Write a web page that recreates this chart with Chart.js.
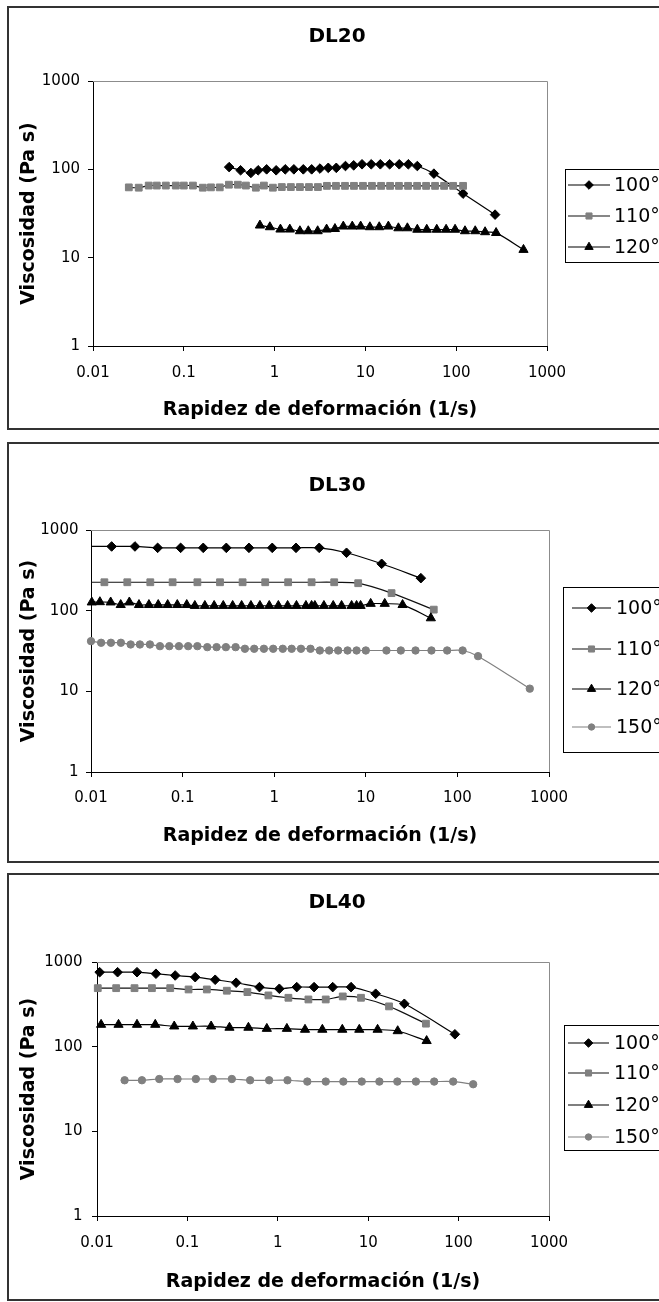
<!DOCTYPE html>
<html>
<head>
<meta charset="utf-8">
<title>Viscosidad DL20 / DL30 / DL40</title>
<script src="https://cdn.jsdelivr.net/npm/chart.js@4.4.1/dist/chart.umd.min.js"></script>
<style>
  html, body { margin: 0; padding: 0; overflow: hidden; background: #fff; width: 659px; height: 1302px; }
  .frame { position: absolute; left: 7px; width: 720px; border: 2px solid #333; box-sizing: border-box; }
  canvas { position: absolute; left: 0; }
</style>
</head>
<body>
<div class="frame" style="top:6px;height:424px"></div>
<div class="frame" style="top:442px;height:421px"></div>
<div class="frame" style="top:873px;height:428px"></div>
<canvas id="dl20" width="720" height="434" style="top:0px;width:720px;height:434px"></canvas>
<canvas id="dl30" width="720" height="434" style="top:434px;width:720px;height:434px"></canvas>
<canvas id="dl40" width="720" height="434" style="top:868px;width:720px;height:434px"></canvas>
<script>
// series labels and axis ticks
var tempLabels = ['100°C', '110°C', '120°C', '150°C'];
var xTicks = [0.01, 0.1, 1, 10, 100, 1000];
var yTicks = [1, 10, 100, 1000];

// DL20 — shear rate (1/s) and viscosity (Pa s)
var dl20_100_x = [0.316, 0.422, 0.548, 0.659, 0.817, 1.04, 1.31, 1.63, 2.07, 2.56, 3.16, 3.90, 4.78, 6.03, 7.43, 9.18, 11.6, 14.6, 18.5, 23.6, 29.7, 37.3, 56.8, 119, 268];
var dl20_100_y = [106, 97.5, 91, 97.5, 100, 97.5, 100, 100, 100, 100, 102, 104, 104, 109, 111, 114, 114, 114, 114, 114, 114, 109, 89.4, 53.1, 30.7];
var dl20_110_x = [0.0248, 0.0319, 0.0411, 0.0504, 0.0634, 0.0817, 0.100, 0.126, 0.162, 0.199, 0.249, 0.314, 0.394, 0.483, 0.622, 0.762, 0.957, 1.20, 1.51, 1.90, 2.39, 3.00, 3.77, 4.74, 5.96, 7.48, 9.40, 11.8, 14.9, 18.7, 23.4, 29.5, 37.1, 46.6, 58.5, 73.6, 92.5, 119];
var dl20_110_y = [62.5, 62, 65.5, 65.5, 65.5, 65.5, 65.5, 65.5, 62, 62.5, 62.5, 67, 67, 65.5, 62, 65.5, 62, 63, 63, 63, 63, 63, 65, 65, 65, 65, 65, 65, 65, 65, 65, 65, 65, 65, 65, 65, 65, 65];
var dl20_120_x = [0.689, 0.887, 1.16, 1.47, 1.90, 2.35, 2.98, 3.74, 4.62, 5.71, 7.17, 8.87, 11.2, 14.2, 17.9, 23.1, 29.0, 37.3, 47.4, 61.1, 77.4, 97.2, 125, 162, 208, 275, 551];
var dl20_120_y = [23.2, 22.2, 20.9, 20.9, 20.0, 20.0, 20.0, 20.9, 21.2, 22.6, 22.6, 22.6, 22.2, 22.2, 22.6, 21.6, 21.6, 20.8, 20.8, 20.8, 20.8, 20.8, 20.0, 20.0, 19.5, 19.1, 12.3];

// DL30
var dl30_100_x = [0.0085, 0.0168, 0.0302, 0.0534, 0.0952, 0.168, 0.300, 0.530, 0.952, 1.73, 3.10, 6.16, 14.9, 39.9];
var dl30_100_y = [625, 625, 625, 601, 601, 601, 601, 601, 601, 601, 601, 522, 381, 253];
var dl30_110_x = [0.0079, 0.0140, 0.0249, 0.0444, 0.0778, 0.145, 0.256, 0.452, 0.798, 1.42, 2.56, 4.52, 8.26, 19.1, 55.2];
var dl30_110_y = [225, 225, 225, 225, 225, 225, 225, 225, 225, 225, 225, 225, 219, 165, 103];
var dl30_120_x = [0.0102, 0.0125, 0.0164, 0.0211, 0.0262, 0.0334, 0.0429, 0.0542, 0.0687, 0.0875, 0.111, 0.136, 0.175, 0.221, 0.278, 0.352, 0.441, 0.557, 0.698, 0.883, 1.11, 1.40, 1.75, 2.22, 2.56, 2.78, 3.49, 4.41, 5.44, 7.00, 7.93, 8.77, 11.3, 16.1, 25.2, 51.3];
var dl30_120_y = [127, 128, 127, 118, 127, 118, 118, 118, 118, 118, 118, 115, 115, 115, 115, 115, 115, 115, 115, 115, 115, 115, 115, 115, 115, 115, 115, 115, 115, 115, 115, 115, 122, 122, 118, 80.8];
var dl30_150_x = [0.0100, 0.0129, 0.0165, 0.0212, 0.0271, 0.0342, 0.0440, 0.0566, 0.0716, 0.0912, 0.115, 0.145, 0.186, 0.235, 0.297, 0.379, 0.479, 0.605, 0.772, 0.975, 1.24, 1.55, 1.96, 2.49, 3.15, 3.98, 4.99, 6.32, 7.93, 10.0, 16.8, 24.1, 34.9, 52.1, 77.3, 114, 168, 617];
var dl30_150_y = [41.9, 40.0, 40.0, 40.0, 38.1, 38.1, 38.1, 36.3, 36.3, 36.3, 36.3, 36.3, 35.3, 35.3, 35.3, 35.3, 33.7, 33.7, 33.7, 33.7, 33.7, 33.7, 33.7, 33.7, 32.1, 32.1, 32.1, 32.1, 32.1, 32.1, 32.1, 32.1, 32.1, 32.1, 32.1, 32.1, 27.3, 10.8];

// DL40
var dl40_100_x = [0.0107, 0.0169, 0.0277, 0.0449, 0.0733, 0.122, 0.203, 0.346, 0.627, 1.04, 1.62, 2.52, 4.05, 6.46, 12.1, 25.1, 91.0];
var dl40_100_y = [758, 758, 758, 727, 693, 662, 617, 569, 505, 483, 505, 505, 505, 505, 422, 321, 140];
var dl40_110_x = [0.0102, 0.0163, 0.0260, 0.0405, 0.0646, 0.103, 0.164, 0.273, 0.461, 0.787, 1.31, 2.18, 3.39, 5.23, 8.32, 17.0, 43.5];
var dl40_110_y = [491, 491, 491, 491, 491, 474, 474, 458, 441, 403, 378, 361, 361, 392, 378, 299, 187];
var dl40_120_x = [0.0111, 0.0173, 0.0277, 0.0441, 0.0715, 0.115, 0.183, 0.292, 0.473, 0.756, 1.26, 2.00, 3.11, 5.17, 7.97, 12.7, 21.2, 44.3];
var dl40_120_y = [182, 182, 182, 182, 174, 174, 174, 168, 168, 163, 163, 159, 159, 159, 159, 159, 153, 117];
var dl40_150_x = [0.0202, 0.0314, 0.0488, 0.0778, 0.124, 0.191, 0.310, 0.494, 0.802, 1.28, 2.12, 3.39, 5.31, 8.48, 13.3, 21.0, 33.7, 53.7, 87.1, 145];
var dl40_150_y = [40.1, 40.1, 41.5, 41.5, 41.5, 41.5, 41.5, 40.1, 40.1, 40.1, 38.7, 38.7, 38.7, 38.7, 38.7, 38.7, 38.7, 38.7, 38.7, 36.0];

var W = 720, H = 434;
Chart.defaults.font.family = '"DejaVu Sans", sans-serif';
Chart.defaults.color = '#000';

// one look per temperature: line colour, marker fill, marker shape, size
var looks = [
  { line: '#000', fill: '#000', shape: 'rectRot', r: 4.8 },
  { line: '#111', fill: '#808080', shape: 'rect', r: 4.8 },
  { line: '#000', fill: '#000', shape: 'triangle', r: 5.3 },
  { line: '#808080', fill: '#808080', shape: 'circle', r: 3.7 }
];

function pts(xs, ys) {
  return xs.map(function (x, i) { return { x: x, y: ys[i] }; });
}

// grey frame on the plot area, the chart title and the boxed legend
var panelDecor = {
  id: 'panelDecor',
  beforeDatasetsDraw: function (chart) {
    var a = chart.chartArea, ctx = chart.ctx;
    ctx.save();
    ctx.strokeStyle = '#8c8c8c';
    ctx.lineWidth = 1;
    ctx.beginPath();
    ctx.moveTo(a.left, a.top + 0.5);
    ctx.lineTo(a.right + 0.5, a.top + 0.5);
    ctx.lineTo(a.right + 0.5, a.bottom);
    ctx.stroke();
    ctx.restore();
  },
  afterDraw: function (chart, args, o) {
    var ctx = chart.ctx, lg = o.legend;
    ctx.save();
    ctx.fillStyle = '#000';
    ctx.font = 'bold 20px "DejaVu Sans"';
    ctx.textAlign = 'center';
    ctx.textBaseline = 'middle';
    ctx.fillText(o.title, 337, o.titleY);

    ctx.strokeStyle = '#000';
    ctx.lineWidth = 1;
    ctx.strokeRect(lg.left + 0.5, lg.top + 0.5, 300, lg.bottom - lg.top);

    ctx.font = '19px "DejaVu Sans"';
    ctx.textAlign = 'left';
    chart.data.datasets.forEach(function (ds, i) {
      var y = lg.rows[i];
      ctx.strokeStyle = ds.borderColor;
      ctx.lineWidth = 1.2;
      ctx.beginPath();
      ctx.moveTo(lg.lineFrom, y);
      ctx.lineTo(lg.lineTo, y);
      ctx.stroke();
      ctx.fillStyle = ds.pointBackgroundColor;
      ctx.strokeStyle = ds.pointBorderColor;
      ctx.lineWidth = 1;
      Chart.helpers.drawPoint(ctx, { pointStyle: ds.pointStyle, radius: ds.pointRadius - 0.5, borderWidth: 1, rotation: 0 },
        (lg.lineFrom + lg.lineTo) / 2, y);
      ctx.fillStyle = '#000';
      ctx.fillText(ds.label, lg.textX, y + 1);
    });
    ctx.restore();
  }
};

function drawPanel(p) {
  var datasets = p.series.map(function (s, i) {
    var lk = looks[i];
    return {
      label: tempLabels[i],
      data: pts(s[0], s[1]),
      borderColor: lk.line,
      borderWidth: 1.2,
      tension: 0.3,
      pointStyle: lk.shape,
      pointRadius: lk.r,
      pointBackgroundColor: lk.fill,
      pointBorderColor: lk.fill,
      pointBorderWidth: 1,
      order: p.series.length - i,
      // points measured below 0.01 1/s are cut at the axis
      clip: s[0][0] < 0.01 ? 0 : false
    };
  });

  new Chart(document.getElementById(p.id), {
    type: 'line',
    data: { datasets: datasets },
    options: {
      responsive: false,
      animation: false,
      events: [],
      layout: { padding: { top: p.area.top, left: 8, right: W - p.area.right, bottom: 0 } },
      plugins: {
        legend: { display: false },
        tooltip: { enabled: false },
        panelDecor: { title: p.title, titleY: p.titleY, legend: p.legend }
      },
      scales: {
        x: {
          type: 'logarithmic',
          position: 'bottom',
          min: 0.01,
          max: 1000,
          afterBuildTicks: function (s) { s.ticks = xTicks.map(function (v) { return { value: v }; }); },
          afterFit: function (s) { s.height = H - p.area.bottom; },
          ticks: {
            autoSkip: false, maxRotation: 0, padding: p.xTickPad,
            font: { size: 15 },
            callback: function (v) { return String(v); }
          },
          grid: { display: true, drawOnChartArea: false, drawTicks: true, tickLength: 5, color: '#000' },
          border: { display: true, color: '#000', width: 1 },
          title: {
            display: true, text: 'Rapidez de deformación (1/s)',
            font: { size: 19, weight: 'bold' }, padding: { top: 0, bottom: p.xTitlePad }
          }
        },
        y: {
          type: 'logarithmic',
          position: 'left',
          min: 1,
          max: 1000,
          afterBuildTicks: function (s) { s.ticks = yTicks.map(function (v) { return { value: v }; }); },
          afterFit: function (s) { s.width = p.area.left - 8; },
          ticks: {
            autoSkip: false, padding: p.yTickPad,
            font: { size: 15 },
            callback: function (v) { return String(v); }
          },
          grid: { display: true, drawOnChartArea: false, drawTicks: true, tickLength: 5, color: '#000' },
          border: { display: true, color: '#000', width: 1 },
          title: {
            display: true, text: 'Viscosidad (Pa s)',
            font: { size: 19, weight: 'bold' }, padding: { top: 10, bottom: 0 }
          }
        }
      }
    },
    plugins: [panelDecor]
  });
}

drawPanel({
  id: 'dl20', title: 'DL20', titleY: 37,
  area: { top: 81, left: 93, right: 547, bottom: 346 },
  xTickPad: 13, yTickPad: 8, xTitlePad: 12.5,
  legend: { left: 565, top: 169, bottom: 262, rows: [185, 216, 247], lineFrom: 568, lineTo: 610, textX: 614 },
  series: [[dl20_100_x, dl20_100_y], [dl20_110_x, dl20_110_y], [dl20_120_x, dl20_120_y]]
});

drawPanel({
  id: 'dl30', title: 'DL30', titleY: 52,
  area: { top: 96, left: 91, right: 549, bottom: 338 },
  xTickPad: 12, yTickPad: 7.5, xTitlePad: 20.5,
  legend: { left: 563, top: 153, bottom: 318, rows: [174, 215, 255, 293], lineFrom: 572, lineTo: 611, textX: 616 },
  series: [[dl30_100_x, dl30_100_y], [dl30_110_x, dl30_110_y], [dl30_120_x, dl30_120_y], [dl30_150_x, dl30_150_y]]
});

drawPanel({
  id: 'dl40', title: 'DL40', titleY: 35,
  area: { top: 94, left: 97, right: 549, bottom: 348 },
  xTickPad: 13, yTickPad: 9.5, xTitlePad: 9,
  legend: { left: 564, top: 157, bottom: 282, rows: [175, 205, 237, 269], lineFrom: 568, lineTo: 609, textX: 614 },
  series: [[dl40_100_x, dl40_100_y], [dl40_110_x, dl40_110_y], [dl40_120_x, dl40_120_y], [dl40_150_x, dl40_150_y]]
});
</script>
</body>
</html>
